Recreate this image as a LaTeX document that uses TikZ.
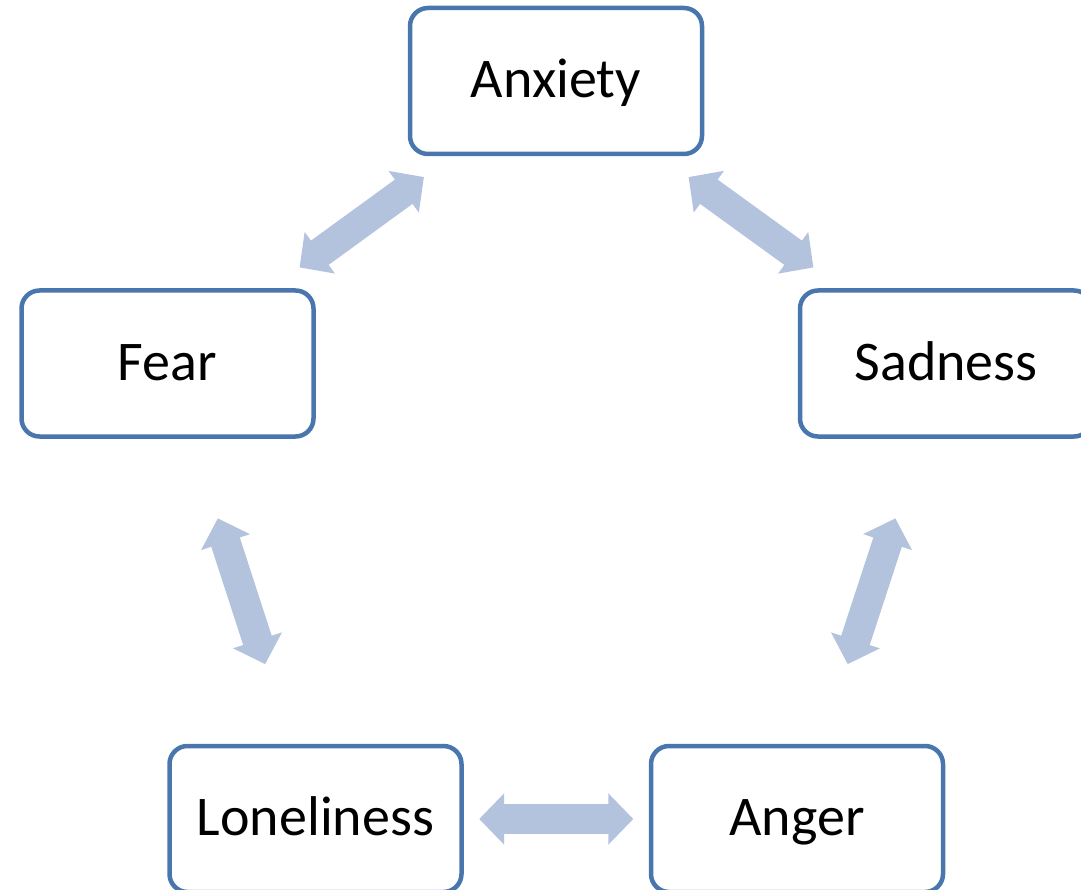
\documentclass[tikz,border=0pt]{standalone}
\usepackage{fontspec}
\setmainfont{Carlito}
\usetikzlibrary{arrows.meta,calc}

\definecolor{boxline}{RGB}{74,118,174}
\definecolor{arrowfill}{RGB}{179,195,222}

\begin{document}
\begin{tikzpicture}[x=1pt,y=-1pt,
  emotion/.style={draw=boxline, line width=4.5pt, rounded corners=18pt, fill=white,
    minimum width=292pt, minimum height=146pt, inner sep=0pt,
    text height=37pt, text depth=4pt, font=\fontsize{56}{62}\selectfont},
  link/.style={draw=arrowfill, line width=30pt,
    {Triangle[length=25pt,width=50pt]}-{Triangle[length=25pt,width=50pt]}}]
%set diagram to 1081 x 890, boxes at right and bottom run off the edge
\useasboundingbox (0,0) rectangle (1081,890);
\clip (0,0) rectangle (1081,890);

% Boxes
\node[emotion] (anx) at (556,81) {Anxiety};
\node[emotion] (sad) at (946,363.5) {Sadness};
\node[emotion] (ang) at (797,819) {Anger};
\node[emotion] (lon) at (315.5,819) {Loneliness};
\node[emotion] (fear) at (167.5,363.5) {Fear};

% Double arrows between neighbours
\foreach \a/\b in {anx/fear, anx/sad, fear/lon, sad/ang, lon/ang}
  \draw[link] ($(\a)!0.34!(\b)$) -- ($(\a)!0.66!(\b)$);

\end{tikzpicture}
\end{document}
